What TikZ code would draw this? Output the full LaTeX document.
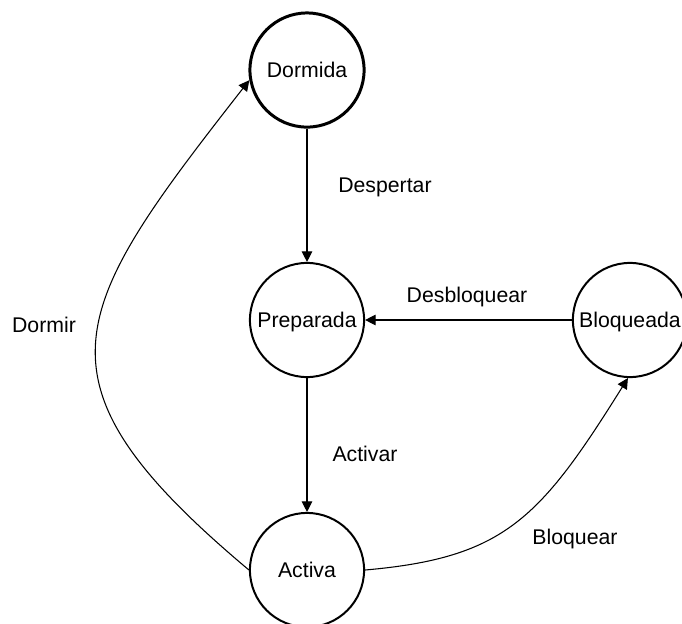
\documentclass[tikz,border=0pt]{standalone}
\usepackage{fontspec}
\setmainfont{Liberation Sans}
\usetikzlibrary{arrows.meta}

\begin{document}
\begin{tikzpicture}[
    state/.style={draw,circle,line width=1.5pt,minimum size=3.02cm,inner sep=0pt,
      text depth=0pt,font=\fontsize{16}{19}\selectfont},
    initial state/.style={state,line width=2.25pt},
    lbl/.style={anchor=base,font=\fontsize{16}{19}\selectfont},
    arr/.style={-{Triangle[length=8pt,width=8pt]},line width=0.8pt}
  ]
    \clip (0,0) rectangle (18.045,16.484);

    \node[initial state] (dormida) at (8.123,14.631) {Dormida};
    \node[state] (preparada) at (8.123,8.017) {Preparada};
    \node[state] (activa) at (8.123,1.402) {Activa};
    \node[state] (bloqueada) at (16.668,8.017) {Bloqueada};

    \draw[arr] (dormida) -- (preparada);
    \draw[arr] (preparada) -- (activa);
    \draw[arr] (bloqueada) -- (preparada);
    \draw[arr] (activa.east) .. controls +(5:3.7) and +(238:4.4) .. (bloqueada.268);
    \draw[arr] (activa.west) .. controls +(140:7.8) and +(232:7.8) .. (dormida.190);

    \node[lbl] (despertar) at (10.186,11.403) {Despertar};
    \node[lbl] (desbloquear) at (12.356,8.467) {Desbloquear};
    \node[lbl] (activar) at (9.657,4.260) {Activar};
    \node[lbl] (bloquear) at (15.213,2.090) {Bloquear};
    \node[lbl] (dormir) at (1.164,7.699) {Dormir};
  \end{tikzpicture}
\end{document}
